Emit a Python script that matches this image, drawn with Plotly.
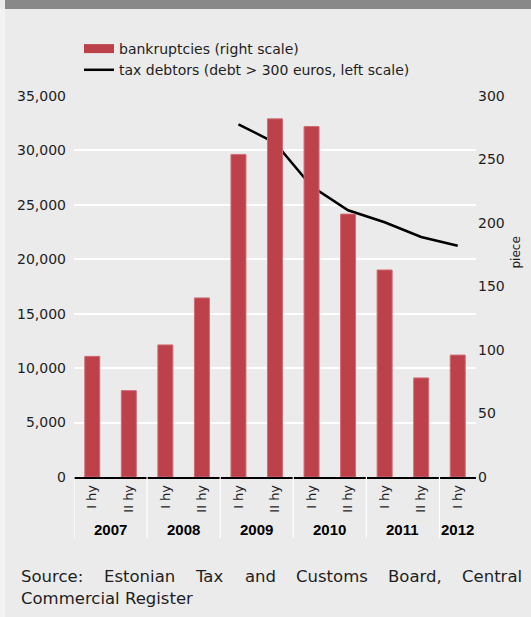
import plotly.graph_objects as go

# ---------------- data ----------------
years = ["2007", "2007", "2008", "2008", "2009", "2009", "2010", "2010", "2011", "2011", "2012"]
halves = ["I hy", "II hy", "I hy", "II hy", "I hy", "II hy", "I hy", "II hy", "I hy", "II hy", "I hy"]
bankruptcies = [95, 68, 104, 141, 254, 282, 276, 207, 163, 78, 96]
tax_debtors = [None, None, None, None, 32400, 30700, 26700, 24500, 23400, 22050, 21250]
left_ticks = [0, 5000, 10000, 15000, 20000, 25000, 30000, 35000]
right_ticks = [0, 50, 100, 150, 200, 250, 300]
source_words = ["Source:", "Estonian", "Tax", "and", "Customs", "Board,", "Central"]
source_line2 = "Commercial Register"

# ---------------- layout geometry (pixels) ----------------
W, H = 531, 617
ML, MR, MT, MB = 74, 55, 96, 140
PW = W - ML - MR
PH = H - MT - MB
Y_BOTTOM = H - MB


def px(xp):
    return (xp - ML) / PW


def py(yp):
    return (Y_BOTTOM - yp) / PH


FONT = "DejaVu Sans"
TXT = "#1e1e1e"
BAR = "#bc414a"

xs = list(range(len(halves)))

fig = go.Figure()
fig.add_trace(go.Bar(
    x=xs, y=bankruptcies, yaxis="y2", name="bankruptcies (right scale)",
    marker=dict(color=BAR, line=dict(color="#cf6c75", width=1)),
    showlegend=False, legendgroup="b",
))
# legend proxy (wide bar-like swatch)
fig.add_trace(go.Scatter(
    x=[None], y=[None], mode="lines", name="bankruptcies (right scale)",
    line=dict(color=BAR, width=9), legendgroup="b", hoverinfo="skip",
))
fig.add_trace(go.Scatter(
    x=xs, y=tax_debtors, mode="lines", name="tax debtors (debt > 300 euros, left scale)",
    line=dict(color="black", width=2.5), connectgaps=False, legendgroup="t",
))

shapes = []
annotations = []

# header band and left strip
shapes.append(dict(type="rect", xref="paper", yref="paper", layer="below",
                   x0=px(5), x1=px(W + 5), y0=py(9), y1=py(-5),
                   fillcolor="#888888", line=dict(width=0)))
shapes.append(dict(type="rect", xref="paper", yref="paper", layer="below",
                   x0=px(-5), x1=px(5), y0=py(H + 5), y1=py(9),
                   fillcolor="#f3f3f3", line=dict(width=0)))

# year group labels and dividers
groups = []
for i, y in enumerate(years):
    if not groups or groups[-1][0] != y:
        groups.append([y, i, i])
    else:
        groups[-1][2] = i
for y, a, b in groups:
    annotations.append(dict(
        x=(a + b) / 2, xref="x", y=py(529.5), yref="paper", text="<b>%s</b>" % y,
        showarrow=False, xanchor="center", yanchor="middle",
        font=dict(family="Liberation Sans", size=15, color="black")))
    shapes.append(dict(type="line", xref="x", yref="paper",
                       x0=a - 0.5, x1=a - 0.5, y0=0, y1=py(538),
                       line=dict(color="#ffffff", width=1.2)))

# right axis title
annotations.append(dict(
    x=px(515), xref="paper", y=py(252.5), yref="paper", text="piece", textangle=-90,
    showarrow=False, xanchor="center", yanchor="middle",
    font=dict(family=FONT, size=12, color=TXT)))

# source (justified first line)
word_x = [19.3, 102, 193, 243, 294, 386, 460]
for w, x0 in zip(source_words, word_x):
    annotations.append(dict(
        x=px(x0), xref="paper", y=py(576), yref="paper", text=w, showarrow=False,
        xanchor="left", yanchor="middle", font=dict(family=FONT, size=16.5, color=TXT)))
annotations.append(dict(
    x=px(19.3), xref="paper", y=py(598.5), yref="paper", text=source_line2, showarrow=False,
    xanchor="left", yanchor="middle", font=dict(family=FONT, size=16.5, color=TXT)))

fig.update_layout(
    width=W, height=H, autosize=False,
    margin=dict(l=ML, r=MR, t=MT, b=MB, pad=0),
    paper_bgcolor="#ebebeb", plot_bgcolor="#ebebeb",
    font=dict(family=FONT, size=14, color=TXT),
    bargap=0.59,
    showlegend=True,
    legend=dict(x=px(79), xanchor="left", y=py(33), yanchor="top",
                bgcolor="rgba(0,0,0,0)", borderwidth=0,
                font=dict(family=FONT, size=14, color=TXT),
                traceorder="normal", tracegroupgap=0),
    xaxis=dict(range=[-0.5, len(xs) - 0.5], tickmode="array", tickvals=xs, ticktext=halves,
               tickangle=-90, ticks="", ticklabelstandoff=1,
               tickfont=dict(family=FONT, size=13, color=TXT),
               showgrid=False, zeroline=False,
               showline=True, linecolor="black", linewidth=1.5, fixedrange=True),
    yaxis=dict(range=[0, 35000], tickmode="array", tickvals=left_ticks, tickformat=",",
               ticks="", ticklabelstandoff=7,
               showgrid=True, gridcolor="white", gridwidth=1.5,
               zeroline=False, showline=False,
               tickfont=dict(family=FONT, size=14, color=TXT)),
    yaxis2=dict(range=[0, 300], overlaying="y", side="right", tickmode="array",
                tickvals=right_ticks, ticks="", ticklabelstandoff=1,
                showgrid=False, zeroline=False, showline=False,
                tickfont=dict(family=FONT, size=14, color=TXT)),
    shapes=shapes,
    annotations=annotations,
)

fig.write_html(
    "out.html",
    config={"displayModeBar": False},
    post_script="document.body.style.margin='0';document.body.style.overflow='hidden';",
)
